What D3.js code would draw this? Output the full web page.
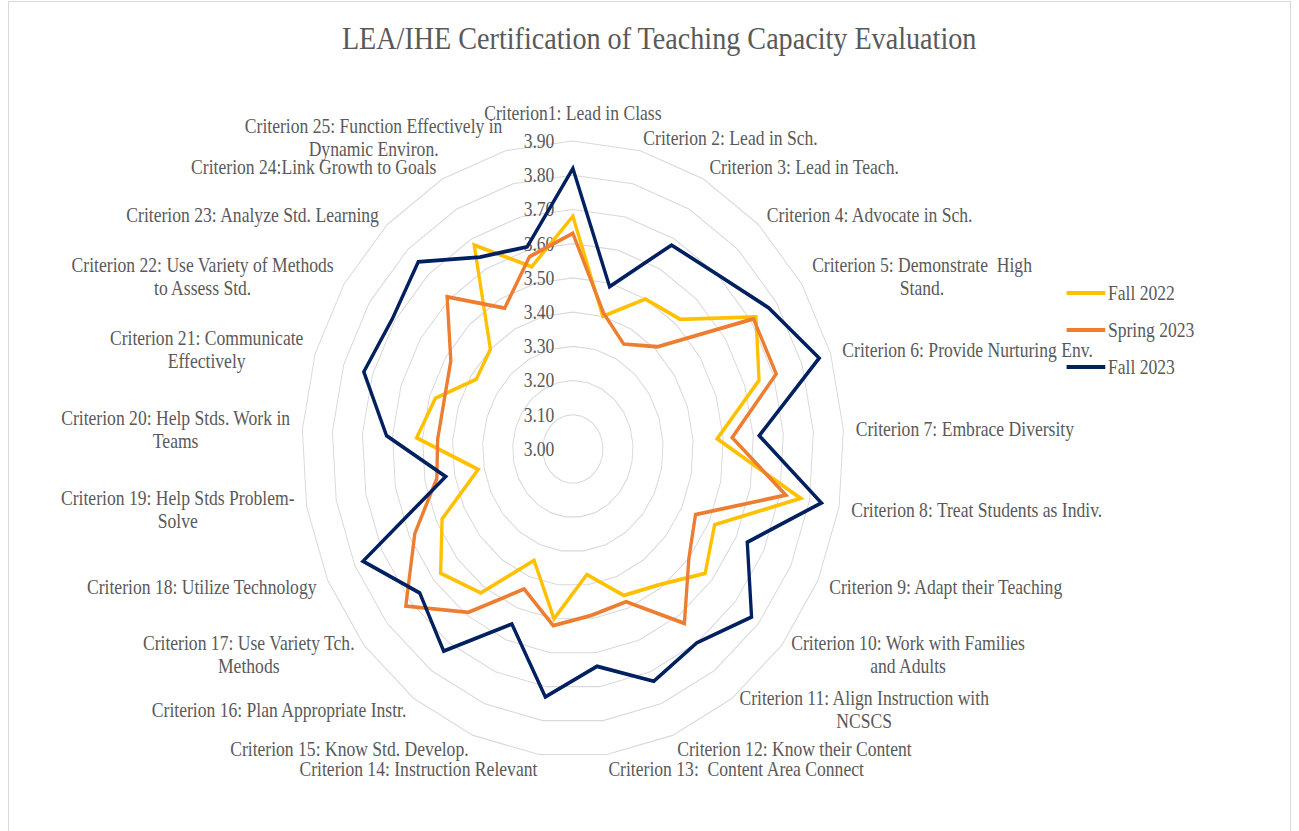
<!DOCTYPE html>
<html lang="en">
	<head>
		<meta charset="utf-8">
		<title>teaching capacity radar</title>
		<script type="text/javascript" src="https://cdn.jsdelivr.net/npm/d3@7"></script>
		<style type="text/css">
			body { margin: 0; background: #fff; }
			text { font-family: "Times New Roman", "Liberation Serif", serif; fill: #595959; white-space: pre; }
		</style>
	</head>

	<body>
        <script type="text/javascript">

            // chart size
			var w = 1299;
			var h = 831;
			var sx = 0.88;   // the original picture is squeezed sideways

            var criteria = [
                "Criterion1: Lead in Class",
                "Criterion 2: Lead in Sch.",
                "Criterion 3: Lead in Teach.",
                "Criterion 4: Advocate in Sch.",
                ["Criterion 5: Demonstrate  High", "Stand."],
                "Criterion 6: Provide Nurturing Env.",
                "Criterion 7: Embrace Diversity",
                "Criterion 8: Treat Students as Indiv.",
                "Criterion 9: Adapt their Teaching",
                ["Criterion 10: Work with Families", "and Adults"],
                ["Criterion 11: Align Instruction with", "NCSCS"],
                "Criterion 12: Know their Content",
                "Criterion 13:  Content Area Connect",
                "Criterion 14: Instruction Relevant",
                "Criterion 15: Know Std. Develop.",
                "Criterion 16: Plan Appropriate Instr.",
                ["Criterion 17: Use Variety Tch.", "Methods"],
                "Criterion 18: Utilize Technology",
                ["Criterion 19: Help Stds Problem-", "Solve"],
                ["Criterion 20: Help Stds. Work in", "Teams"],
                ["Criterion 21: Communicate", "Effectively"],
                ["Criterion 22: Use Variety of Methods", "to Assess Std."],
                "Criterion 23: Analyze Std. Learning",
                "Criterion 24:Link Growth to Goals",
                ["Criterion 25: Function Effectively in", "Dynamic Environ."]
            ];

            var seriesNames = ["Fall 2022", "Spring 2023", "Fall 2023"];
            var seriesColors = ["#FFC000", "#ED7D31", "#002060"];

            var fall2022 = [3.68, 3.40, 3.50, 3.52, 3.72, 3.65, 3.48, 3.77, 3.52, 3.57, 3.49, 3.46, 3.37,
                            3.50, 3.35, 3.52, 3.57, 3.48, 3.32, 3.52, 3.48, 3.38, 3.40, 3.68, 3.55];
            var spring2023 = [3.63, 3.41, 3.35, 3.41, 3.71, 3.71, 3.53, 3.72, 3.45, 3.50, 3.63, 3.48, 3.49,
                              3.52, 3.44, 3.59, 3.72, 3.58, 3.46, 3.45, 3.45, 3.48, 3.61, 3.47, 3.58];
            var fall2023 = [3.82, 3.49, 3.68, 3.70, 3.77, 3.86, 3.62, 3.84, 3.64, 3.77, 3.70, 3.73, 3.64,
                            3.73, 3.55, 3.73, 3.66, 3.77, 3.43, 3.62, 3.73, 3.71, 3.75, 3.64, 3.61];

            var ticks = [3.00, 3.10, 3.20, 3.30, 3.40, 3.50, 3.60, 3.70, 3.80, 3.90];

            var seriesData = [fall2022, spring2023, fall2023];
            var n = criteria.length;

            // centre and radius in unsqueezed units
            var cx = 651, cy = 449, R = 308;

            var rScale = d3.scaleLinear()
                .domain([3.0, 3.9])
                .range([0, R]);

            var angle = function(i) { return i * 2 * Math.PI / n; };

            var svg = d3.select("body")
                .append("svg")
                .attr("width", w)
                .attr("height", h);

            // outer frame
            svg.append("rect")
                .attr("x", 8.5)
                .attr("y", 1.5)
                .attr("width", 1282)
                .attr("height", 840)
                .attr("fill", "none")
                .attr("stroke", "#d9d9d9");

            var root = svg.append("g")
                .attr("transform", "scale(" + sx + ",1)");

            // title
            root.append("text")
                .attr("x", 749)
                .attr("y", 38)
                .attr("text-anchor", "middle")
                .attr("dominant-baseline", "central")
                .style("font-size", "32px")
                .text("LEA/IHE Certification of Teaching Capacity Evaluation");

            var plot = root.append("g")
                .attr("transform", "translate(" + cx + "," + cy + ")");

            // grid rings (25-gons)
            var ring = d3.lineRadial()
                .angle(function(d, i) { return angle(i); })
                .radius(function(d) { return rScale(d); })
                .curve(d3.curveLinearClosed);

            plot.selectAll("path.grid")
                .data(ticks.filter(function(t) { return t > 3.0; }))
                .enter()
                .append("path")
                .attr("class", "grid")
                .attr("d", function(t) { return ring(d3.range(n).map(function() { return t; })); })
                .attr("fill", "none")
                .attr("stroke", "#d9d9d9")
                .attr("stroke-width", 1.1);

            // value labels up the first axis
            plot.selectAll("text.tick")
                .data(ticks)
                .enter()
                .append("text")
                .attr("class", "tick")
                .attr("x", -21)
                .attr("y", function(t) { return -rScale(t); })
                .attr("text-anchor", "end")
                .attr("dominant-baseline", "central")
                .style("font-size", "20px")
                .text(function(t) { return t.toFixed(2); });

            // series lines
            var line = d3.lineRadial()
                .angle(function(d, i) { return angle(i); })
                .radius(function(d) { return rScale(d); })
                .curve(d3.curveLinearClosed);

            plot.selectAll("path.series")
                .data(seriesData)
                .enter()
                .append("path")
                .attr("class", "series")
                .attr("d", line)
                .attr("fill", "none")
                .attr("stroke", function(d, i) { return seriesColors[i]; })
                .attr("stroke-width", 3.8)
                .attr("stroke-linejoin", "miter");

            // category labels round the outside
            criteria.forEach(function(lab, i) {
                var a = angle(i), s = Math.sin(a), c = Math.cos(a);
                var lines = Array.isArray(lab) ? lab : [lab];
                var anchor = Math.abs(s) < 0.05 ? "middle" : (s > 0 ? "start" : "end");
                var gx = (R + 14) * s;
                var yc = -R * c - 14 * c - (anchor == "middle" ? 14 * c : 0);

                var t = plot.append("text")
                    .attr("class", "cat")
                    .style("font-size", "20px")
                    .attr("dominant-baseline", "central");

                var spans = lines.map(function(l, k) {
                    return t.append("tspan")
                        .attr("y", yc + (k - (lines.length - 1) / 2) * 23)
                        .text(l);
                });

                var bw = d3.max(spans, function(sp) { return sp.node().getComputedTextLength(); });
                var left = anchor == "start" ? gx : (anchor == "end" ? gx - bw : gx - bw / 2);

                spans.forEach(function(sp) {
                    sp.attr("x", left + bw / 2).attr("text-anchor", "middle");
                });
            });

            // legend
            var legend = root.append("g")
                .attr("transform", "translate(1212,293)");

            seriesNames.forEach(function(name, i) {
                legend.append("line")
                    .attr("x1", 0)
                    .attr("x2", 44)
                    .attr("y1", i * 37)
                    .attr("y2", i * 37)
                    .attr("stroke", seriesColors[i])
                    .attr("stroke-width", 4);
                legend.append("text")
                    .attr("x", 47)
                    .attr("y", i * 37)
                    .attr("dominant-baseline", "central")
                    .style("font-size", "20px")
                    .text(name);
            });

        </script>
	</body>
</html>
